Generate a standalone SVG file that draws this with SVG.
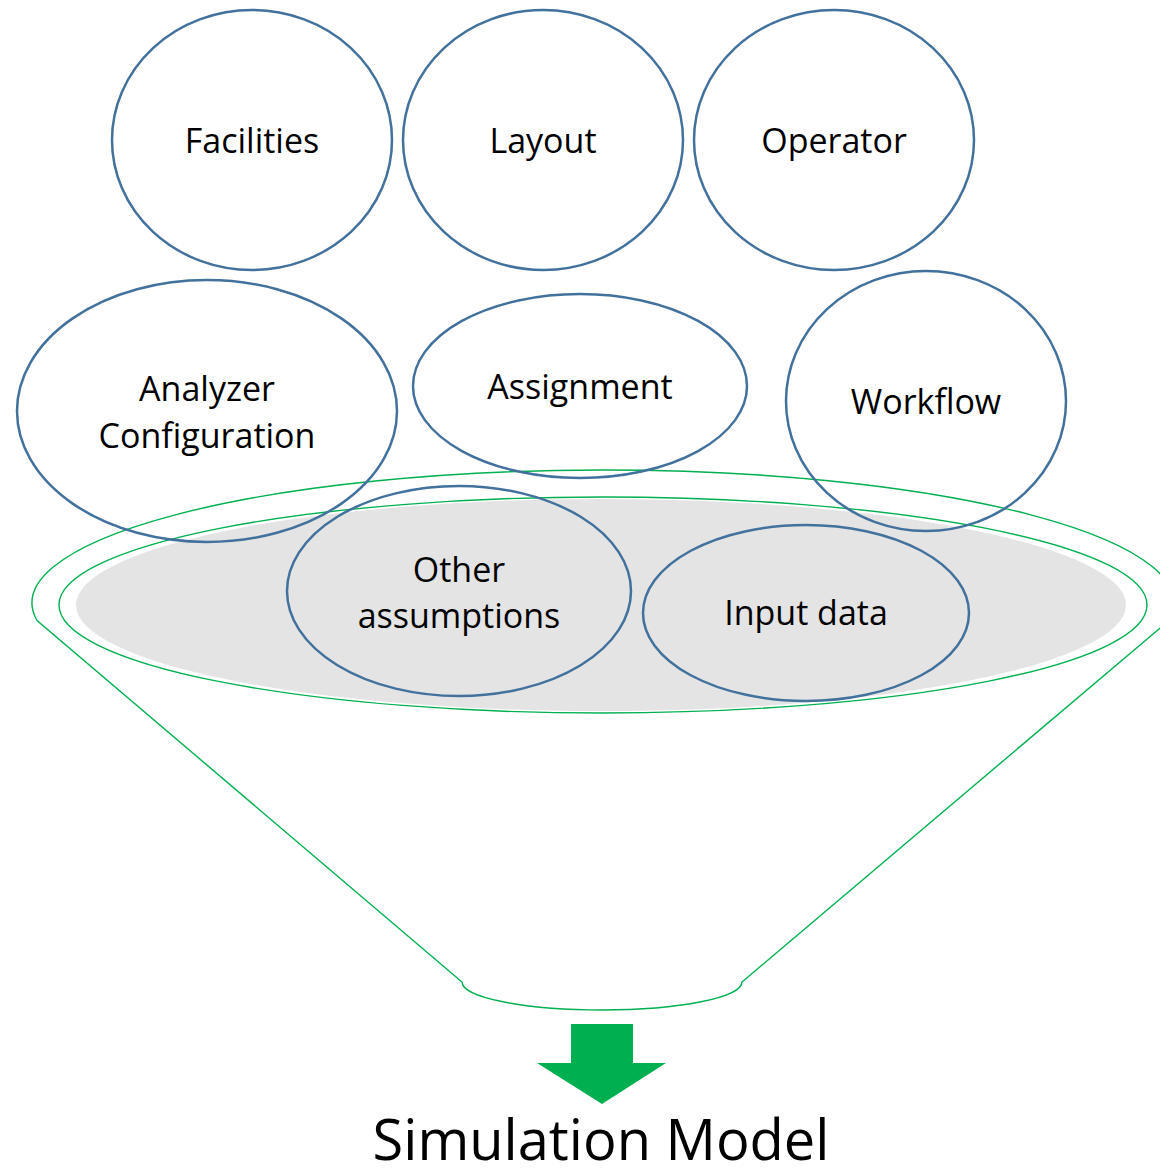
<svg xmlns="http://www.w3.org/2000/svg" width="1160" height="1169" viewBox="0 0 1160 1169">
<style>
.node{fill:none;stroke:#41719C;stroke-width:2.5}
.lbl{font-family:"Open Sans","Noto Sans","Liberation Sans",sans-serif;font-size:34px;fill:#000;text-anchor:middle}
.fun{fill:none;stroke:#00B050;stroke-width:1.4}
</style>
<rect width="1160" height="1169" fill="#fff"/>
<g id="funnel">
<path class="fun" d="M37,620.5 A571,133 0 1 1 1169,620.5 L742,982 A140,28 0 0 1 462,982 Z"/>
<ellipse cx="601" cy="605" rx="525" ry="106" fill="#E4E4E4"/>
<ellipse class="fun" cx="603" cy="605" rx="544" ry="108"/>
</g>
<g id="facilities"><ellipse class="node" cx="252" cy="140" rx="140" ry="130"/><text class="lbl" x="252" y="153">Facilities</text></g>
<g id="layout"><ellipse class="node" cx="543" cy="140" rx="140" ry="130"/><text class="lbl" x="543" y="153">Layout</text></g>
<g id="operator"><ellipse class="node" cx="834" cy="140" rx="140" ry="130"/><text class="lbl" x="834" y="153">Operator</text></g>
<g id="analyzer"><ellipse class="node" cx="207" cy="411" rx="190" ry="131"/><text class="lbl" x="207" y="401">Analyzer</text><text class="lbl" x="207" y="448">Configuration</text></g>
<g id="assignment"><ellipse class="node" cx="580" cy="386" rx="167" ry="92"/><text class="lbl" x="580" y="399">Assignment</text></g>
<g id="workflow"><ellipse class="node" cx="926" cy="401" rx="140" ry="130"/><text class="lbl" x="926" y="414">Workflow</text></g>
<g id="other"><ellipse class="node" cx="459" cy="591" rx="172" ry="105"/><text class="lbl" x="459" y="582">Other</text><text class="lbl" x="459" y="628">assumptions</text></g>
<g id="input"><ellipse class="node" cx="806" cy="613" rx="163" ry="88"/><text class="lbl" x="806" y="625">Input data</text></g>
<g id="connectors">
<polygon points="571,1024 633,1024 633,1063 666,1063 602,1104 537,1063 571,1063" fill="#00B050"/>
</g>
<g id="result"><text class="lbl" x="601" y="1160" style="font-size:56px">Simulation Model</text></g>
</svg>
